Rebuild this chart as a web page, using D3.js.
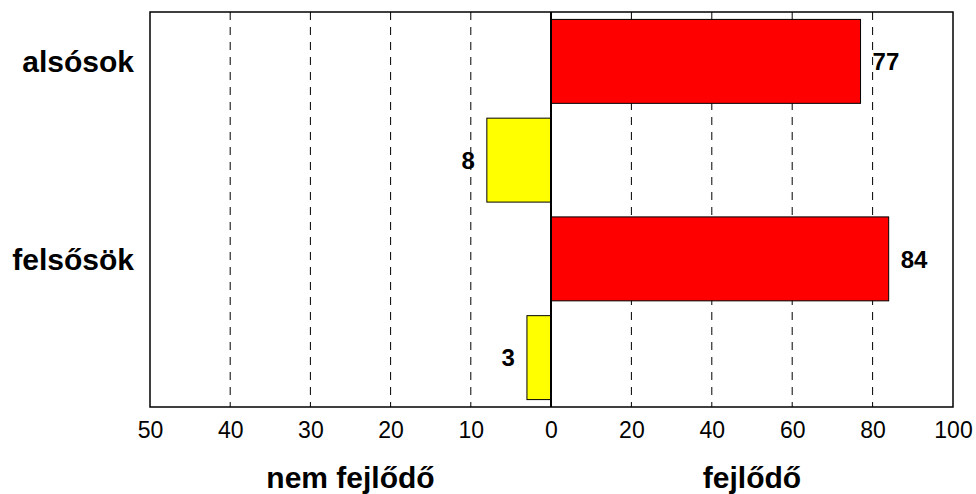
<!DOCTYPE html>
<html>
<head>
<meta charset="utf-8">
<script src="https://cdn.jsdelivr.net/npm/d3@7"></script>
<style>
body { margin: 0; background: #fff; }
text { font-family: "Liberation Sans", Arial, sans-serif; }
</style>
</head>
<body>
<script>
var categories = ['alsósok', 'felsősök'];
var fejlodo = [77, 84];
var nemFejlodo = [8, 3];
var leftTicks = [50, 40, 30, 20, 10, 0];
var rightTicks = [20, 40, 60, 80, 100];

var width = 976, height = 494;
var plotTop = 12, plotBottom = 407, plotLeft = 150, plotMid = 551, plotRight = 953;

var svg = d3.select('body').append('svg')
    .attr('width', width)
    .attr('height', height);

var xLeft = d3.scaleLinear().domain([50, 0]).range([plotLeft, plotMid]);
var xRight = d3.scaleLinear().domain([0, 100]).range([plotMid, plotRight]);

// four bar slots: red, yellow for each category
var slots = [];
categories.forEach(function(c) {
  slots.push(c + '_f');
  slots.push(c + '_n');
});
var y = d3.scaleBand().domain(slots).range([plotTop, plotBottom]).paddingInner(0.15).paddingOuter(0.075);

// grid lines
var grid = svg.append('g');
leftTicks.slice(1, -1).forEach(function(t) {
  grid.append('line')
    .attr('x1', xLeft(t)).attr('x2', xLeft(t))
    .attr('y1', plotTop).attr('y2', plotBottom)
    .attr('stroke', '#000').attr('stroke-width', 1)
    .attr('stroke-dasharray', '8,7');
});
rightTicks.slice(0, -1).forEach(function(t) {
  grid.append('line')
    .attr('x1', xRight(t)).attr('x2', xRight(t))
    .attr('y1', plotTop).attr('y2', plotBottom)
    .attr('stroke', '#000').attr('stroke-width', 1)
    .attr('stroke-dasharray', '8,7');
});

// frame
svg.append('rect')
  .attr('x', plotLeft).attr('y', plotTop)
  .attr('width', plotRight - plotLeft).attr('height', plotBottom - plotTop)
  .attr('fill', 'none').attr('stroke', '#000').attr('stroke-width', 1.5);

// red bars (fejlődő)
svg.selectAll('rect.f')
  .data(fejlodo)
  .enter()
    .append('rect')
    .attr('class', 'f')
    .attr('x', xRight(0))
    .attr('y', function(d, i) { return y(categories[i] + '_f'); })
    .attr('width', function(d) { return xRight(d) - xRight(0); })
    .attr('height', y.bandwidth())
    .attr('fill', '#ff0000')
    .attr('stroke', '#000')
    .attr('stroke-width', 1);

// yellow bars (nem fejlődő)
svg.selectAll('rect.n')
  .data(nemFejlodo)
  .enter()
    .append('rect')
    .attr('class', 'n')
    .attr('x', function(d) { return xLeft(d); })
    .attr('y', function(d, i) { return y(categories[i] + '_n'); })
    .attr('width', function(d) { return xLeft(0) - xLeft(d); })
    .attr('height', y.bandwidth())
    .attr('fill', '#ffff00')
    .attr('stroke', '#000')
    .attr('stroke-width', 1);

// value labels
svg.selectAll('text.fl')
  .data(fejlodo)
  .enter()
    .append('text')
    .attr('class', 'fl')
    .attr('x', function(d) { return xRight(d) + 12; })
    .attr('y', function(d, i) { return y(categories[i] + '_f') + y.bandwidth() / 2; })
    .attr('dy', '0.36em')
    .style('font-size', '24px').style('font-weight', 'bold')
    .text(function(d) { return d; });

svg.selectAll('text.nl')
  .data(nemFejlodo)
  .enter()
    .append('text')
    .attr('class', 'nl')
    .attr('x', function(d) { return xLeft(d) - 12; })
    .attr('y', function(d, i) { return y(categories[i] + '_n') + y.bandwidth() / 2; })
    .attr('dy', '0.36em')
    .attr('text-anchor', 'end')
    .style('font-size', '24px').style('font-weight', 'bold')
    .text(function(d) { return d; });

// zero line
svg.append('line')
  .attr('x1', plotMid).attr('x2', plotMid)
  .attr('y1', plotTop).attr('y2', plotBottom)
  .attr('stroke', '#000').attr('stroke-width', 2);

// category labels
svg.selectAll('text.cat')
  .data(categories)
  .enter()
    .append('text')
    .attr('class', 'cat')
    .attr('x', 134)
    .attr('y', function(d) { return y(d + '_f') + y.bandwidth() / 2; })
    .attr('dy', '0.36em')
    .attr('text-anchor', 'end')
    .style('font-size', '30px').style('font-weight', 'bold')
    .text(function(d) { return d; });

// axes
var axL = svg.append('g')
  .attr('transform', 'translate(0,' + plotBottom + ')')
  .call(d3.axisBottom(xLeft).tickValues(leftTicks).tickSize(0).tickPadding(15));
var axR = svg.append('g')
  .attr('transform', 'translate(0,' + plotBottom + ')')
  .call(d3.axisBottom(xRight).tickValues(rightTicks).tickSize(0).tickPadding(15));
[axL, axR].forEach(function(a) {
  a.select('.domain').remove();
  a.selectAll('text')
    .style('font-family', '"Liberation Sans", Arial, sans-serif')
    .style('font-size', '23px')
    .attr('fill', '#000');
});

// axis titles
svg.append('text')
  .attr('x', (plotLeft + plotMid) / 2).attr('y', 488)
  .attr('text-anchor', 'middle')
  .style('font-size', '30px').style('font-weight', 'bold')
  .text('nem fejlődő');
svg.append('text')
  .attr('x', (plotMid + plotRight) / 2).attr('y', 488)
  .attr('text-anchor', 'middle')
  .style('font-size', '30px').style('font-weight', 'bold')
  .text('fejlődő');
</script>
</body>
</html>
